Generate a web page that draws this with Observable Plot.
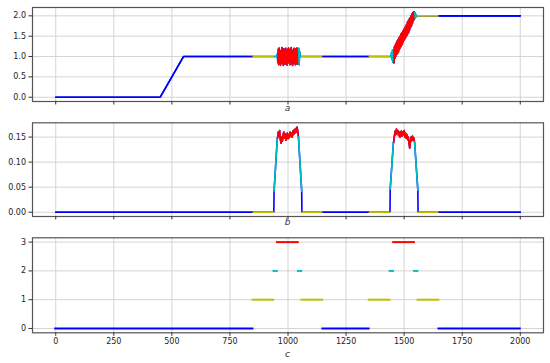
<!DOCTYPE html>
<html><head><meta charset="utf-8">
<script src="https://cdn.jsdelivr.net/npm/d3@7"></script>
<script src="https://cdn.jsdelivr.net/npm/@observablehq/plot@0.6"></script>
<style>
body{margin:0;background:#fff;}
#chart{position:relative;width:550px;height:363px;font-family:"DejaVu Sans",sans-serif;overflow:hidden;}
.panel{position:absolute;left:0;}
.lbl{position:absolute;font-size:9px;font-style:italic;color:#333;transform:translateX(-50%);line-height:11px;}
</style></head><body><div id="chart"></div>
<script>
// ---- data ----
const xTicks = [0, 250, 500, 750, 1000, 1250, 1500, 1750, 2000];
const aTicks = [0, 0.5, 1, 1.5, 2];
const bTicks = [0, 0.05, 0.1, 0.15];
const cTicks = [0, 1, 2, 3];
const panelLabels = ["a", "b", "c"];

// state segments (inclusive ends)
const segStart = [0, 850, 940, 955, 1045, 1060, 1150, 1350, 1440, 1455, 1545, 1560, 1650];
const segEnd   = [849, 939, 954, 1044, 1059, 1149, 1349, 1439, 1454, 1544, 1559, 1649, 2000];
const segState = [0, 1, 2, 3, 2, 1, 0, 1, 2, 3, 2, 1, 0];

// panel a signal [x, y]
const signalA = [
 [0,0],[450,0],[550,1],[849,1],[850,1],[939,1],[940,1],[950,1],
 [952,1.00],[954,1.06],[956,0.85],[958,1.18],[960,0.80],[962,1.21],[964,0.88],[966,1.15],[968,0.79],[970,1.12],
 [972,0.92],[974,1.22],[976,0.83],[978,1.10],[980,0.78],[982,1.19],[984,0.90],[986,1.14],[988,0.81],[990,1.20],
 [992,0.86],[994,1.08],[996,0.79],[998,1.17],[1000,0.93],[1002,1.21],[1004,0.84],[1006,1.13],[1008,0.80],[1010,1.18],
 [1012,0.89],[1014,1.22],[1016,0.82],[1018,1.09],[1020,0.78],[1022,1.16],[1024,0.91],[1026,1.20],[1028,0.83],[1030,1.12],
 [1032,0.80],[1034,1.19],[1036,0.87],[1038,1.21],[1040,0.81],[1042,1.15],[1044,0.84],[1046,1.20],[1048,0.80],[1050,1.12],
 [1052,1.00],[1059,1],[1060,1],[1149,1],[1150,1],[1349,1],[1350,1],[1439,1],[1440,1],[1442,1],[1444,1.00],
 [1446,1.10],[1448,0.92],[1450,1.16],[1452,0.86],[1454,1.10],[1456,0.84],[1458,1.24],[1460,0.95],[1462,1.28],[1464,1.00],
 [1466,1.33],[1468,1.05],[1470,1.38],[1472,1.08],[1474,1.42],[1476,1.12],[1478,1.46],[1480,1.18],[1482,1.50],[1484,1.22],
 [1486,1.55],[1488,1.26],[1490,1.58],[1492,1.30],[1494,1.62],[1496,1.36],[1498,1.66],[1500,1.40],[1502,1.70],[1504,1.44],
 [1506,1.74],[1508,1.48],[1510,1.78],[1512,1.52],[1514,1.84],[1516,1.56],[1518,1.88],[1520,1.60],[1522,1.92],[1524,1.66],
 [1526,1.95],[1528,1.72],[1530,2.00],[1532,1.76],[1534,2.05],[1536,1.82],[1538,2.08],[1540,1.88],[1542,2.10],[1544,1.92],
 [1546,2.08],[1548,1.94],[1550,2.04],[1552,1.98],[1554,2.00],[1559,2],[1560,2],[1649,2],[1650,2],[2000,2]
];

// panel b signal [x, y]
const signalB = [
 [0,0],[849,0],[850,0],[939,0],[940,0.042],[954,0.148],
 [955,0.148],[958,0.160],[961,0.152],[964,0.163],[967,0.145],[970,0.138],[973,0.150],[976,0.142],[979,0.155],[982,0.160],
 [985,0.148],[988,0.156],[991,0.144],[994,0.152],[997,0.158],[1000,0.147],[1003,0.155],[1006,0.149],[1009,0.160],[1012,0.152],
 [1015,0.158],[1018,0.150],[1021,0.162],[1024,0.155],[1027,0.165],[1030,0.158],[1033,0.167],[1036,0.160],[1039,0.170],[1042,0.162],
 [1044,0.155],[1045,0.150],[1059,0.042],[1060,0],[1149,0],[1150,0],[1349,0],[1350,0],[1439,0],[1440,0.046],[1454,0.140],
 [1455,0.140],[1458,0.152],[1461,0.162],[1464,0.155],[1467,0.166],[1470,0.158],[1473,0.163],[1476,0.153],[1479,0.160],[1482,0.150],
 [1485,0.158],[1488,0.162],[1491,0.152],[1494,0.160],[1497,0.155],[1500,0.163],[1503,0.150],[1506,0.158],[1509,0.148],[1512,0.155],
 [1515,0.145],[1518,0.150],[1521,0.138],[1524,0.128],[1527,0.140],[1530,0.150],[1533,0.143],[1536,0.152],[1539,0.145],[1542,0.148],
 [1544,0.142],[1545,0.140],[1559,0.044],[1560,0],[1649,0],[1650,0],[2000,0]
];

// ---- drawing ----
const stateColor = ["#0000ff", "#bfbf00", "#00bfbf", "#ff0000"];
const gridStyle = {stroke: "#cfcfcf", strokeOpacity: 1, strokeWidth: 0.9};

function signalMarks(sig) {
  const marks = [Plot.line(sig, {x: d => d[0], y: d => d[1], stroke: stateColor[0], strokeWidth: 1.6})];
  segStart.forEach((s, i) => {
    const pts = sig.filter(p => p[0] >= s && p[0] <= segEnd[i]);
    marks.push(Plot.line(pts, {x: d => d[0], y: d => d[1], stroke: stateColor[segState[i]], strokeWidth: 1.6}));
  });
  return marks;
}

function stateMarks() {
  const segs = segStart.map((s, i) => ({x1: s, x2: segEnd[i], y: segState[i]}));
  return segs.map(d => Plot.ruleY([d], {x1: "x1", x2: "x2", y: "y", stroke: stateColor[d.y], strokeWidth: 2, strokeLinecap: "square"}));
}

function makePanel({marks, yDomain, yTicks, yFmt, height, mt, mb, showX}) {
  return Plot.plot({
    width: 550, height,
    marginLeft: 32, marginRight: 7, marginTop: mt, marginBottom: mb,
    style: {fontFamily: "'DejaVu Sans', sans-serif", fontSize: "8px", color: "#222", background: "transparent", overflow: "visible"},
    x: {domain: [-100, 2100]},
    y: {domain: yDomain},
    marks: [
      Plot.gridX(xTicks, gridStyle),
      Plot.gridY(yTicks, gridStyle),
      ...marks,
      Plot.frame({stroke: "#555", strokeWidth: 1.2}),
      Plot.axisX(xTicks, {tickSize: 3.5, tickPadding: 2.5, tickFormat: showX ? (d => String(d)) : (() => ""), label: null, stroke: "#333"}),
      Plot.axisY(yTicks, {tickSize: 3.5, tickPadding: 3, tickFormat: yFmt, label: null, stroke: "#333"})
    ]
  });
}

const chart = document.getElementById("chart");
const panels = [
  {top: 0, marks: signalMarks(signalA), yDomain: [-0.105, 2.205], yTicks: aTicks, yFmt: d3.format(".1f"), height: 115, mt: 7, mb: 14, showX: false, labelY: 108},
  {top: 115, marks: signalMarks(signalB), yDomain: [-0.0085, 0.1785], yTicks: bTicks, yFmt: d3.format(".2f"), height: 115, mt: 7.3, mb: 14, showX: false, labelY: 222},
  {top: 230, marks: stateMarks(), yDomain: [-0.15, 3.15], yTicks: cTicks, yFmt: d3.format("d"), height: 133, mt: 7.3, mb: 30.7, showX: true, labelY: 354}
];
panels.forEach((p, i) => {
  const wrap = document.createElement("div");
  wrap.className = "panel";
  wrap.style.top = p.top + "px";
  wrap.appendChild(makePanel(p));
  chart.appendChild(wrap);
  const lbl = document.createElement("div");
  lbl.className = "lbl";
  lbl.textContent = panelLabels[i];
  lbl.style.left = "287.5px";
  lbl.style.top = (p.labelY - 5.5) + "px";
  chart.appendChild(lbl);
});
</script>
</body></html>
